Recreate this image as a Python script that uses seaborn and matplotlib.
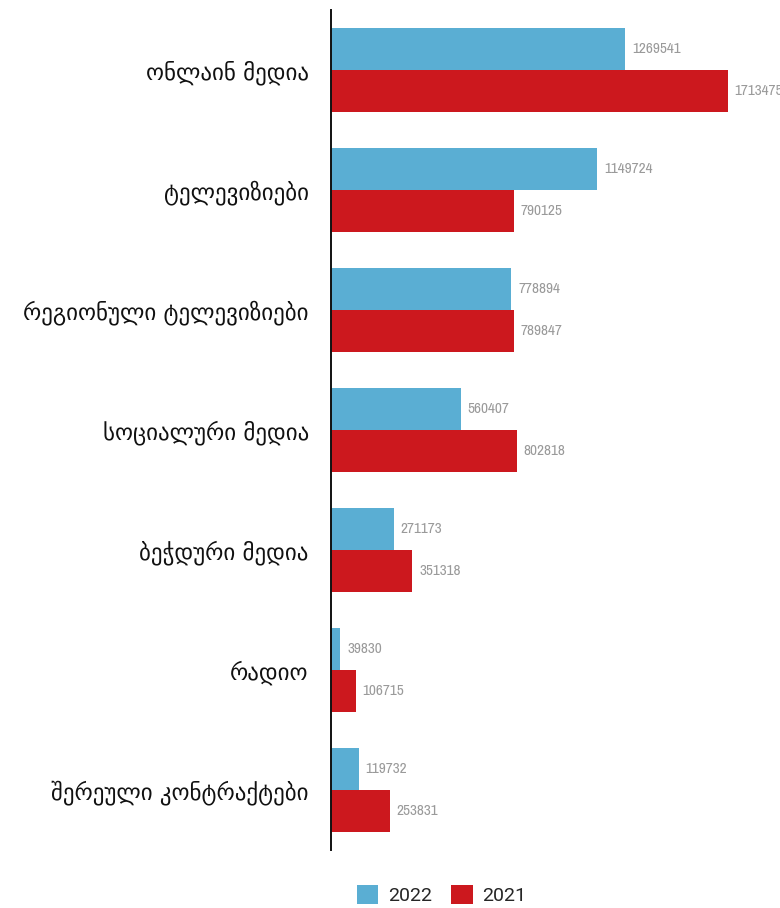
import matplotlib
matplotlib.use("Agg")
import matplotlib.pyplot as plt
from matplotlib.patches import Patch
from matplotlib import font_manager
import seaborn as sns
import pandas as pd

categories = [
    "ონლაინ მედია",
    "ტელევიზიები",
    "რეგიონული ტელევიზიები",
    "სოციალური მედია",
    "ბეჭდური მედია",
    "რადიო",
    "შერეული კონტრაქტები",
]
values_2022 = [1269541, 1149724, 778894, 560407, 271173, 39830, 119732]
values_2021 = [1713475, 790125, 789847, 802818, 351318, 106715, 253831]
years = ["2022", "2021"]
colors = {"2022": "#5aaed3", "2021": "#cc181e"}

df = pd.DataFrame({
    "category": categories * 2,
    "value": values_2022 + values_2021,
    "year": ["2022"] * len(categories) + ["2021"] * len(categories),
})


def narrow_font(size):
    """Pick a condensed face for the value labels, if one is installed."""
    narrow = [f for f in font_manager.fontManager.ttflist
              if (f.stretch in ("condensed", "semi-condensed", "extra-condensed",
                                "ultra-condensed") or
                  "Narrow" in f.name or "Condensed" in f.name)
              and f.weight in (400, "normal", "regular")
              and f.style == "normal"]
    narrow.sort(key=lambda f: (0 if "Narrow" in f.name else 1))
    if narrow:
        return font_manager.FontProperties(fname=narrow[0].fname, size=size)
    return font_manager.FontProperties(family="DejaVu Sans", size=size * 0.8)


sns.set_theme(style="white")
plt.rcParams["font.family"] = ["DejaVu Sans"]

fig = plt.figure(figsize=(7.8, 9.08), dpi=100)
ax = fig.add_axes([331 / 780, 1 - 850 / 908, 1 - 331 / 780, 840 / 908])

sns.barplot(data=df, x="value", y="category", hue="year", hue_order=years,
            order=categories, palette=colors, orient="h", width=0.7, gap=0,
            saturation=1, linewidth=0, ax=ax, legend=False)

ax.set_xlim(0, 1.94e6)
ax.set_ylim(6.5, -0.5)
ax.set_xlabel("")
ax.set_ylabel("")
ax.set_xticks([])
for s in ["top", "right", "bottom"]:
    ax.spines[s].set_visible(False)
ax.spines["left"].set_color("#111111")
ax.spines["left"].set_linewidth(1.4)
ax.tick_params(axis="y", length=0, pad=16, labelsize=16.5, labelcolor="#111111")

label_font = narrow_font(11)
for container in ax.containers:
    texts = ax.bar_label(container,
                         labels=[f"{int(v)}" for v in container.datavalues],
                         padding=5, color="#9a9a9a", clip_on=False)
    for t in texts:
        t.set_fontproperties(label_font)

handles = [Patch(facecolor=colors[y], edgecolor="none") for y in years]
fig.legend(handles, years, loc="center", bbox_to_anchor=(0.566, 1 - 895 / 908),
           ncol=2, frameon=False, handlelength=1.1,
           handleheight=1.1, handletextpad=0.5, columnspacing=1.0,
           prop={"family": "Roboto", "size": 14})

fig.savefig("out.png", dpi=100)
